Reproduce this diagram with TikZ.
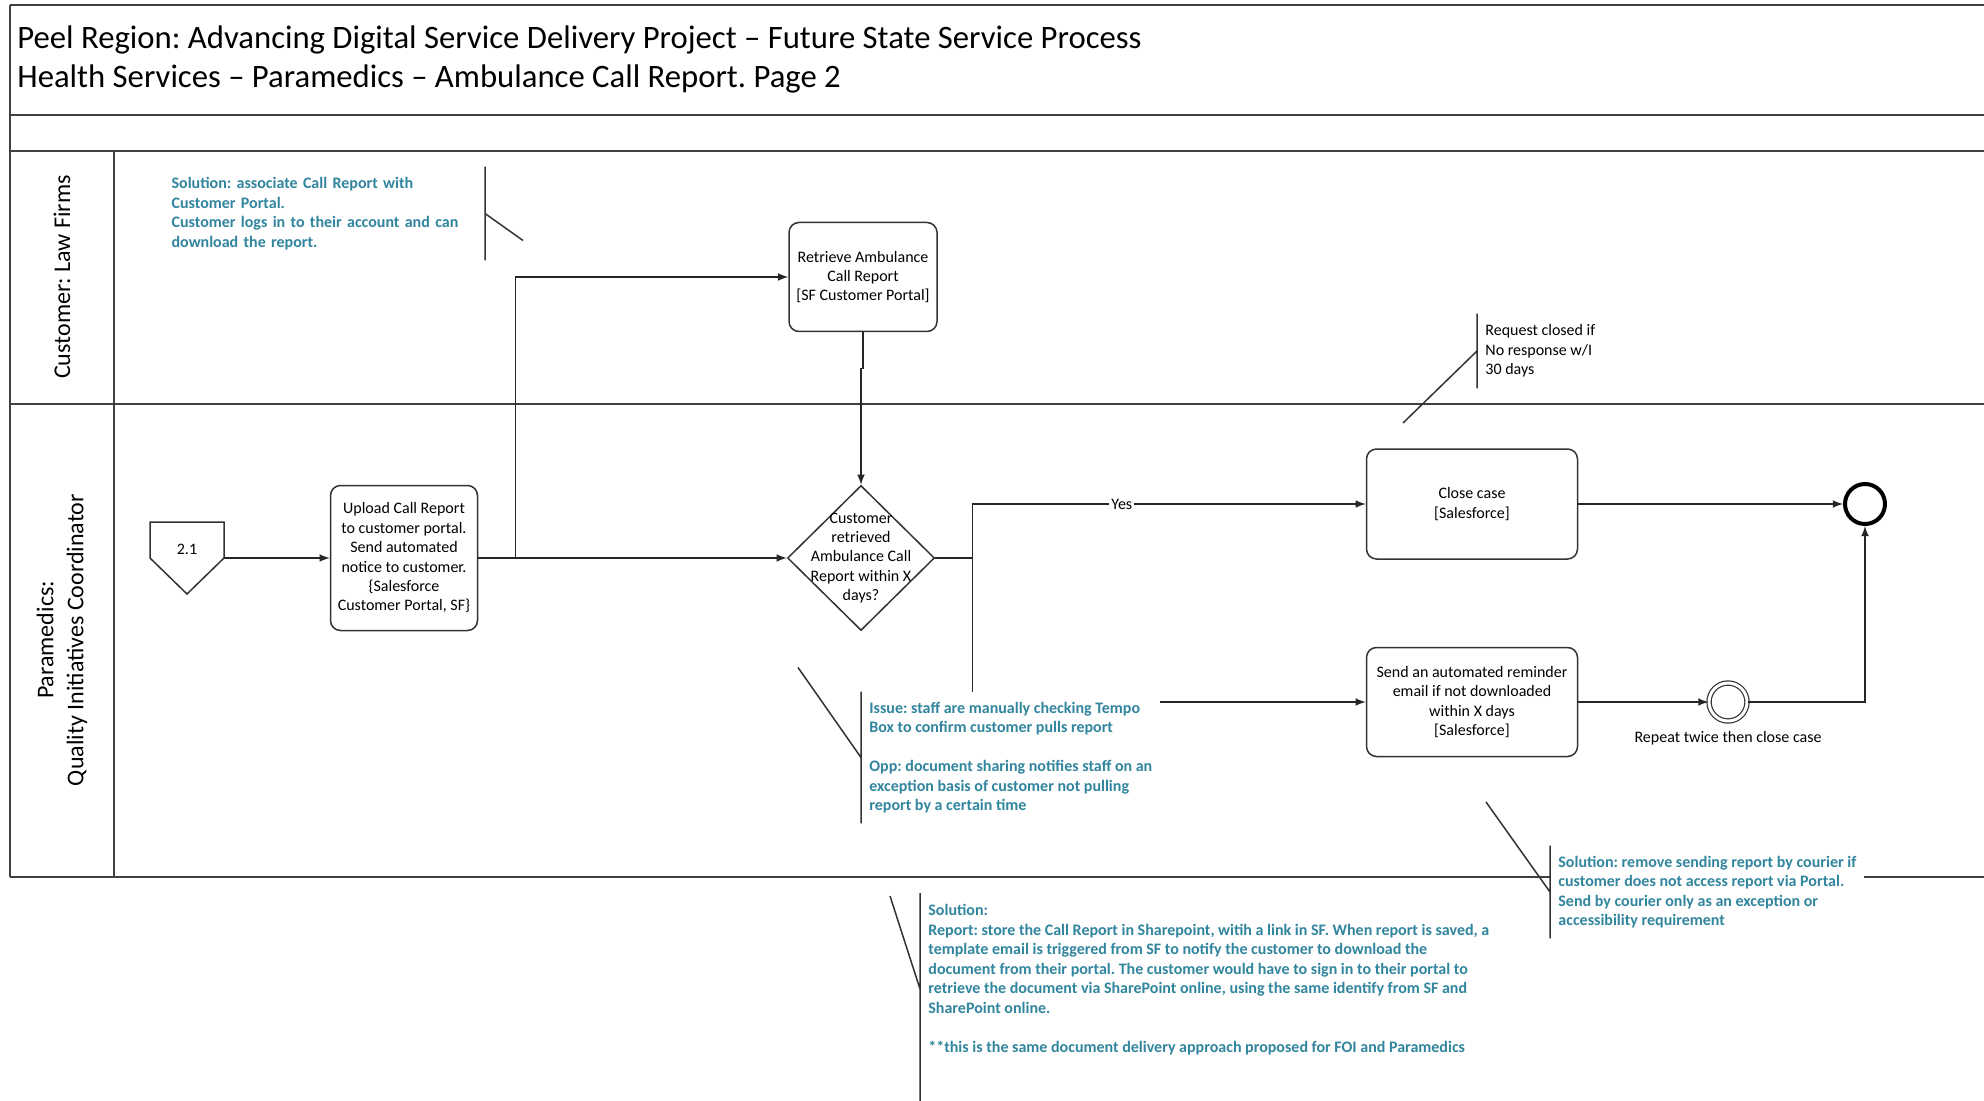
\documentclass[tikz,border=0pt]{standalone}
\usepackage{fontspec}
\setmainfont{Carlito}
\usepackage{tikz}
\usetikzlibrary{arrows,shapes.geometric}
\definecolor{noteteal}{RGB}{49,133,158}

\begin{document}
\frenchspacing
\begin{tikzpicture}[x=0.5pt, y=-0.5pt, style={
  boxtext/.style={
    font=\fontsize{8}{9.7}\selectfont,
    align=center,
  },
  outline/.style={
    line width=0.75pt,
    draw=black!80,
  },
  taskstyle/.style={
    boxtext, outline, rectangle,
    rounded corners=5pt,
    inner sep=0pt,
  },
  gatestyle/.style={
    outline, diamond,
    inner sep=0pt,
    minimum width=73.5pt,
    minimum height=72.5pt,
  },
  endstyle/.style={
    circle,
    line width=2pt,
    draw=black,
    minimum size=20pt,
    inner sep=0pt,
  },
  repeatstyle/.style={
    circle,
    line width=0.6pt,
    draw=black!80,
    double, double distance=1.5pt,
    minimum size=19pt,
    inner sep=0pt,
  },
  notestyle/.style={
    font=\fontsize{8}{9.75}\selectfont\bfseries,
    text=noteteal,
    align=left,
    fill=white,
    inner xsep=4pt, inner ysep=0pt,
  },
  lanestyle/.style={line width=1pt, draw=black!75},
  lanelabel/.style={font=\fontsize{12}{15}\selectfont, align=center, rotate=90},
  titlestyle/.style={font=\fontsize{16.35}{20}\selectfont, anchor=base west, inner sep=0pt},
  myarrow/.style={->, >=latex, line width=0.75pt, draw=black!85}
}]
\useasboundingbox (0,0) rectangle (1984,1101);
\draw[lanestyle]
  (10,5) -- (1984,5)
  (10,115) -- (1984,115)
  (10,151) -- (1984,151)
  (10,404) -- (1984,404)
  (10,877) -- (1984,877)
  (10,5) -- (10,877)
  (114,151) -- (114,877)
;
\draw[]
  node[titlestyle] (title) at (17,49)
    {Peel Region: Advancing Digital Service Delivery Project – Future State Service Process}
  node[titlestyle] (subtitle) at (17,88)
    {Health Services – Paramedics – Ambulance Call Report. Page 2}
  node[lanelabel] (customerlane) at (62,277) {Customer: Law Firms}
  node[lanelabel] (paramedicslane) at (62,640) {Paramedics:\\Quality Initiatives Coordinator}
;
\coordinate (offpageout) at (224,558);
\draw[outline] (150,522) -- (224,522) -- (offpageout) -- (187,594) -- (150,558) -- cycle;
\draw[]
  node[boxtext] (offpage) at (187,549) {2.1}
  node[taskstyle, minimum width=73.5pt, minimum height=72.5pt] (upload) at (404,558) {
    Upload Call Report\\to customer portal.\\Send automated\\notice to customer.\\
    \{Salesforce\\Customer Portal, SF\}
  }
  node[gatestyle, label={[boxtext]center:Customer\\retrieved\\Ambulance Call\\Report within X\\days?}]
    (gate) at (861,558) {}
  node[taskstyle, above of=gate, xshift=1pt, node distance=140.5pt,
    minimum width=74pt, minimum height=54.5pt] (retrieve) {
    Retrieve Ambulance\\Call Report\\{}[SF Customer Portal]
  }
  node[taskstyle, minimum width=105.5pt, minimum height=55pt] (closecase) at (1472,504) {
    Close case\\{}[Salesforce]
  }
  node[endstyle, right of=closecase, node distance=196.5pt] (endevent) {}
  node[taskstyle, below of=closecase, node distance=99pt,
    minimum width=105.5pt, minimum height=54.5pt] (reminder) {
    Send an automated reminder\\email if not downloaded\\within X days\\{}[Salesforce]
  }
  node[repeatstyle, right of=reminder, node distance=128pt] (repeatevent) {}
  node[boxtext, below of=repeatevent, node distance=18pt] (repeatlabel) {Repeat twice then close case}
;
\draw[myarrow] (offpageout) -- (upload.west);
\draw[myarrow] (upload.east) -- (gate.west);
\draw[myarrow] (upload.east) -- ++(37,0) |- (retrieve.west);
\draw[myarrow] (retrieve.south) -- ++(0,36) -| (gate.north);
\draw[myarrow] (gate.east) -- ++(37,0) |- node[pos=0.69, boxtext, fill=white, inner sep=1pt] (yeslabel) {Yes} (closecase.west);
\draw[myarrow] (gate.east) -- ++(37,0) |- (reminder.west);
\draw[myarrow] (closecase.east) -- (endevent.west);
\draw[myarrow] (reminder.east) -- (repeatevent.west);
\draw[myarrow] (repeatevent.east) -| (endevent.south);
\def\bracketline{outline}
\draw[]
  node[notestyle, anchor=east, text width=152.5pt, minimum height=46.5pt] (portalnote) at (485,213.5) {
    Solution: associate Call Report with\\Customer Portal.\\
    Customer logs in to their account and can\\download the report.
  }
  node[notestyle, text=black, font=\fontsize{8}{9.75}\selectfont, anchor=west, minimum height=37pt]
    (requestnote) at (1477,351) {
    Request closed if\\No response w/I\\30 days
  }
  node[notestyle, anchor=west, minimum height=65.5pt] (issuenote) at (861,757.5) {
    Issue: staff are manually checking Tempo\\Box to confirm customer pulls report\\[9.75pt]
    Opp: document sharing notifies staff on an\\exception basis of customer not pulling\\
    report by a certain time
  }
  node[notestyle, anchor=west, minimum height=46pt] (couriernote) at (1550,892) {
    Solution: remove sending report by courier if\\customer does not access report via Portal.\\
    Send by courier only as an exception or\\accessibility requirement
  }
  node[notestyle, anchor=north west] (sharepointnote) at (920,904) {
    Solution:\\
    Report: store the Call Report in Sharepoint, witih a link in SF. When report is saved, a\\
    template email is triggered from SF to notify the customer to download the\\
    document from their portal. The customer would have to sign in to their portal to\\
    retrieve the document via SharePoint online, using the same identify from SF and\\
    SharePoint online.\\[9.75pt]
    **this is the same document delivery approach proposed for FOI and Paramedics
  }
;
\draw[\bracketline]
  (portalnote.north east) -- (portalnote.south east)
  (portalnote.east) -- ++(38,27)
  (requestnote.north west) -- (requestnote.south west)
  (requestnote.west) -- ++(-74,72)
  (issuenote.north west) -- (issuenote.south west)
  (issuenote.west) -- ++(-63,-90)
  (couriernote.north west) -- (couriernote.south west)
  (couriernote.west) -- ++(-64,-90)
  ([yshift=5.5pt]sharepointnote.north west) -- ++(0,220)
  ([yshift=5.5pt]sharepointnote.north west) ++(0,96) -- ++(-30,-93)
;
\end{tikzpicture}
\end{document}
